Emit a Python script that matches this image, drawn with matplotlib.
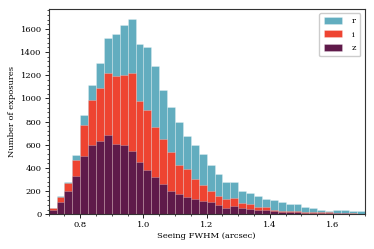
import numpy as np
import matplotlib
matplotlib.use("Agg")
import matplotlib.pyplot as plt
from matplotlib.ticker import AutoMinorLocator, MultipleLocator

bin_edges = np.round(np.arange(0.7, 1.7001, 0.025), 4)
r_counts = [50, 155, 282, 510, 853, 1118, 1303, 1522, 1557, 1632, 1686, 1470, 1444, 1277,
            1075, 922, 795, 672, 597, 522, 421, 349, 282, 282, 202, 184, 156, 130, 121, 107,
            84, 89, 61, 55, 35, 29, 35, 35, 26, 26]
i_counts = [55, 150, 268, 464, 770, 989, 1090, 1222, 1196, 1199, 1216, 977, 902, 752,
            651, 536, 421, 389, 305, 254, 202, 159, 130, 138, 92, 86, 61, 58, 37, 29,
            29, 26, 20, 20, 17, 17, 14, 14, 8, 5]
z_counts = [40, 107, 202, 326, 499, 594, 628, 686, 608, 597, 548, 450, 383, 317,
            262, 202, 173, 150, 133, 112, 107, 75, 55, 69, 55, 43, 40, 35, 26, 20,
            17, 17, 12, 12, 9, 9, 9, 9, 5, 3]
labels = ["r", "i", "z"]
colors = ["#62adbf", "#ee4431", "#5f1a4a"]

plt.rcParams["font.family"] = ["DejaVu Serif"]
plt.rcParams["font.size"] = 6

fig = plt.figure(figsize=(3.74, 2.49), dpi=100)
ax = fig.add_axes([0.13, 0.14, 0.845, 0.825])

centers = (bin_edges[:-1] + bin_edges[1:]) / 2
for counts, lab, col in zip([r_counts, i_counts, z_counts], labels, colors):
    ax.hist(centers, bins=bin_edges, weights=counts, color=col, label=lab,
            edgecolor=(1, 1, 1, 0.35), linewidth=0.5)

ax.set_xlim(0.7, 1.7)
ax.set_ylim(0, 1775)
ax.xaxis.set_major_locator(MultipleLocator(0.2))
ax.xaxis.set_minor_locator(AutoMinorLocator(4))
ax.yaxis.set_major_locator(MultipleLocator(200))
ax.yaxis.set_minor_locator(AutoMinorLocator(5))
ax.tick_params(which="major", length=3, width=0.6, labelsize=6, pad=2)
ax.tick_params(which="minor", length=1.5, width=0.5)
for s in ax.spines.values():
    s.set_linewidth(0.8)
    s.set_color("#333333")
ax.set_xlabel("Seeing FWHM (arcsec)", fontsize=6, labelpad=2)
ax.set_ylabel("Number of exposures", fontsize=6, labelpad=3)
ax.legend(loc="upper right", fontsize=6, handlelength=2.2, handleheight=0.9,
          borderpad=0.5, labelspacing=0.6, handletextpad=1.2, framealpha=1,
          edgecolor="#cccccc")

fig.savefig("out.png", dpi=100)
